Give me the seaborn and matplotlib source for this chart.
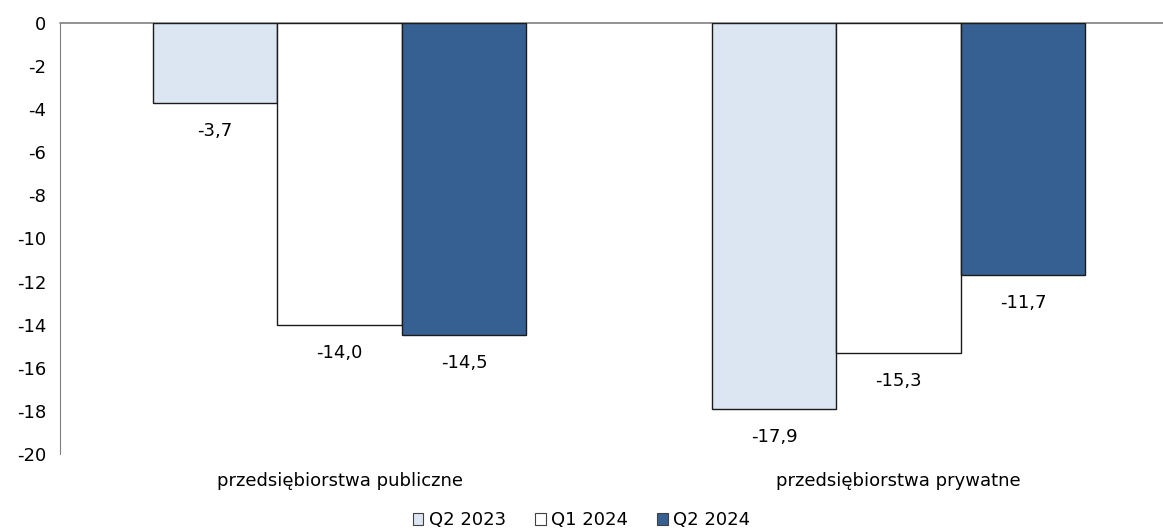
import pandas as pd
import matplotlib
matplotlib.use("Agg")
import matplotlib.pyplot as plt
import seaborn as sns
from matplotlib.patches import Patch

categories = ["przedsiębiorstwa publiczne", "przedsiębiorstwa prywatne"]
periods = ["Q2 2023", "Q1 2024", "Q2 2024"]
q2_2023 = [-3.7, -17.9]
q1_2024 = [-14.0, -15.3]
q2_2024 = [-14.5, -11.7]
colors = ["#dce6f2", "#ffffff", "#376092"]

rows = []
for i, cat in enumerate(categories):
    for per, vals in zip(periods, [q2_2023, q1_2024, q2_2024]):
        rows.append({"kategoria": cat, "okres": per, "wartosc": vals[i]})
df = pd.DataFrame(rows)

sns.set_style("white")
plt.rcParams["font.family"] = ["DejaVu Sans"]
plt.rcParams["text.color"] = "black"
plt.rcParams["xtick.color"] = "black"
plt.rcParams["ytick.color"] = "black"

fig = plt.figure(figsize=(11.63, 5.31), dpi=100)
ax = fig.add_axes([0.0516, 0.145, 0.9484, 0.8117])

sns.barplot(data=df, x="kategoria", y="wartosc", hue="okres", order=categories,
            hue_order=periods, palette=colors, width=0.668, gap=0,
            edgecolor="#1a1a1a", linewidth=1.0, saturation=1, legend=False, ax=ax)

# value labels below the bars
for container in ax.containers:
    for bar in container:
        h = bar.get_height()
        ax.annotate(f"{h:.1f}".replace(".", ","),
                    (bar.get_x() + bar.get_width() / 2, h),
                    xytext=(0, -28), textcoords="offset pixels",
                    ha="center", va="center", fontsize=13)

ax.set_ylim(-20, 0)
ax.set_xlim(-0.5, 1.473)
ax.set_yticks(range(-20, 1, 2))
ax.set_yticklabels([str(v) for v in range(-20, 1, 2)], fontsize=13)
ax.tick_params(axis="y", length=0, pad=10)
ax.tick_params(axis="x", length=0, pad=13, labelsize=13)
ax.set_xlabel("")
ax.set_ylabel("")
for s in ["top", "right", "bottom"]:
    ax.spines[s].set_visible(False)
ax.spines["left"].set_color("#808080")
ax.axhline(0, color="#808080", linewidth=1.2, zorder=0, clip_on=False)

handles = [Patch(facecolor=c, edgecolor="#404040", linewidth=0.8) for c in colors]
fig.legend(handles, periods, loc="center", bbox_to_anchor=(0.5, 0.02), ncol=3,
           frameon=False, fontsize=13, handlelength=0.6, handleheight=0.6,
           handletextpad=0.3, columnspacing=1.6)

fig.savefig("out.png", dpi=100)
